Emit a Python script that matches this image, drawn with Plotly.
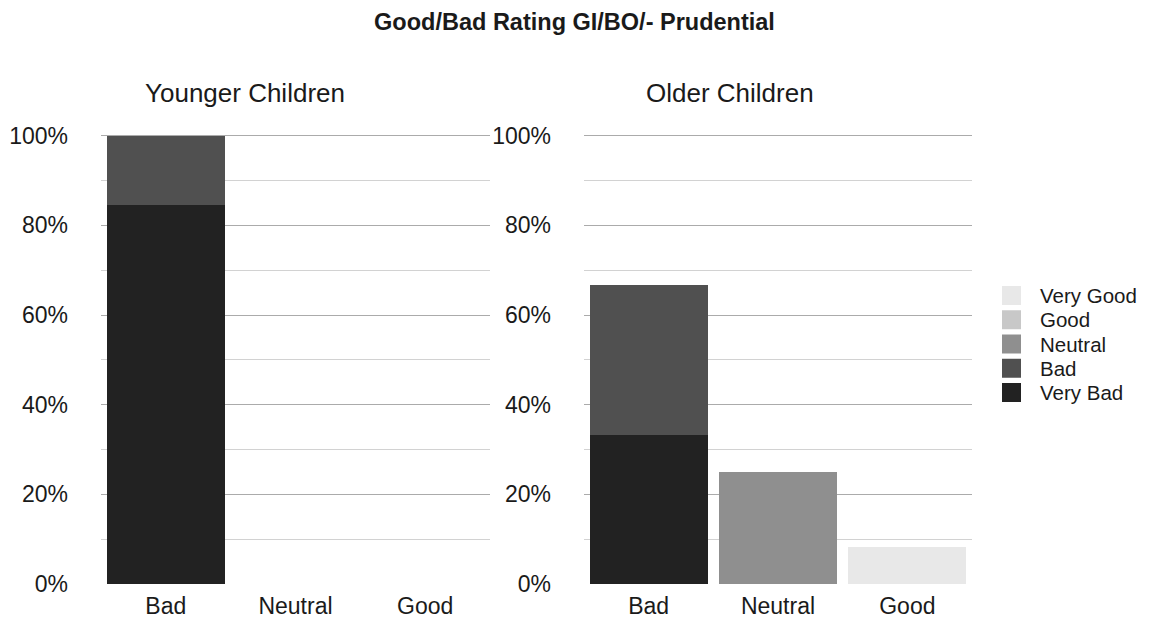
import plotly.graph_objects as go

# Rating buckets on the x axis and the five rating levels stacked in each bar
categories = ["Bad", "Neutral", "Good"]
ratings = ["Very Bad", "Bad", "Neutral", "Good", "Very Good"]
rating_colors = ["#222222", "#505050", "#8f8f8f", "#c8c8c8", "#e8e8e8"]

# Younger Children: share of answers (%) per bucket
younger_very_bad = [84.6, 0, 0]
younger_bad = [15.4, 0, 0]
younger_neutral = [0, 0, 0]
younger_good = [0, 0, 0]
younger_very_good = [0, 0, 0]

# Older Children: share of answers (%) per bucket
older_very_bad = [33.33, 0, 0]
older_bad = [33.33, 0, 0]
older_neutral = [0, 25.0, 0]
older_good = [0, 0, 0]
older_very_good = [0, 0, 8.33]

y_ticks = [0, 20, 40, 60, 80, 100]
y_tick_labels = ["0%", "20%", "40%", "60%", "80%", "100%"]

younger = [younger_very_bad, younger_bad, younger_neutral, younger_good, younger_very_good]
older = [older_very_bad, older_bad, older_neutral, older_good, older_very_good]

W, H = 1149, 620
FONT = "Liberation Sans, Arial, sans-serif"
TXT = "#1a1a1a"

fig = go.Figure()
for name, color, vals in zip(ratings, rating_colors, younger):
    fig.add_trace(go.Bar(x=categories, y=vals, name=name, marker_color=color,
                         marker_line_width=0, xaxis="x", yaxis="y", showlegend=False,
                         hovertemplate="%{x}: %{y:.1f}%<extra>" + name + "</extra>"))
for name, color, vals in zip(ratings, rating_colors, older):
    fig.add_trace(go.Bar(x=categories, y=vals, name=name, marker_color=color,
                         marker_line_width=0, xaxis="x2", yaxis="y2", showlegend=False,
                         hovertemplate="%{x}: %{y:.1f}%<extra>" + name + "</extra>"))

# vertical extent: 0% at 584 px, top of range (100.4%) just above the 100% line
Y_TOP = 100.4
px_per_pct = (584 - 135.7) / 100
y_dom = [1 - 584 / H, 1 - (584 - Y_TOP * px_per_pct) / H]

def xaxis(dom, anchor):
    return dict(domain=dom, anchor=anchor, type="category", categoryorder="array",
                categoryarray=categories, range=[-0.5, 2.5], showgrid=False,
                zeroline=False, showline=False, ticks="", ticklabelstandoff=6,
                automargin=False,
                tickfont=dict(family=FONT, size=23, color=TXT), fixedrange=True)

def yaxis(anchor):
    return dict(domain=y_dom, anchor=anchor, range=[0, Y_TOP], tickmode="array",
                tickvals=y_ticks, ticktext=y_tick_labels,
                showgrid=True, gridcolor="#ababab", gridwidth=1,
                minor=dict(dtick=10, tick0=0, showgrid=True, gridcolor="#d2d2d2", gridwidth=1),
                zeroline=False, showline=False, ticks="", ticklabelstandoff=32,
                automargin=False,
                tickfont=dict(family=FONT, size=23, color=TXT), fixedrange=True)

fig.update_layout(
    width=W, height=H,
    margin=dict(l=0, r=0, t=0, b=0, autoexpand=False),
    paper_bgcolor="white", plot_bgcolor="white",
    barmode="stack", bargap=0.09,
    showlegend=False,
    xaxis=xaxis([101 / W, 490 / W], "y"),
    xaxis2=xaxis([584 / W, 972 / W], "y2"),
    yaxis=yaxis("x"),
    yaxis2=yaxis("x2"),
    title=dict(text="<b>Good/Bad Rating GI/BO/- Prudential</b>", x=0.5, xanchor="center",
               y=1 - 22 / H, yanchor="middle",
               font=dict(family=FONT, size=23.5, color=TXT)),
)

# Panel titles
for label, cx in [("Younger Children", 245), ("Older Children", 730)]:
    fig.add_annotation(text=label, xref="paper", yref="paper", x=cx / W, y=1 - 93 / H,
                       xanchor="center", yanchor="middle", showarrow=False,
                       font=dict(family=FONT, size=26, color=TXT))

# Legend: swatches and labels, top entry is the last stacked level
step = 24.25
for i, (name, color) in enumerate(zip(ratings[::-1], rating_colors[::-1])):
    cy = 295.5 + i * step
    fig.add_shape(type="rect", xref="paper", yref="paper",
                  x0=1002 / W, x1=1021 / W, y0=1 - (cy + 9.5) / H, y1=1 - (cy - 9.5) / H,
                  fillcolor=color, line_width=0)
    fig.add_annotation(text=name, xref="paper", yref="paper", x=1038 / W, y=1 - cy / H,
                       xanchor="left", yanchor="middle", showarrow=False,
                       font=dict(family=FONT, size=20.5, color=TXT))

fig.write_html("out.html")
